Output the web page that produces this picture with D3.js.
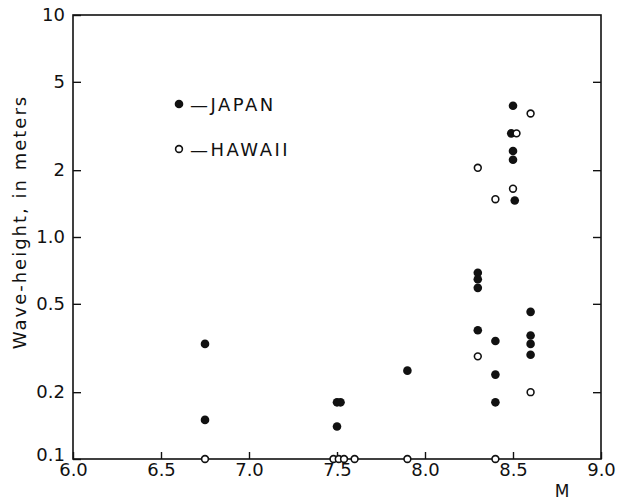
<!DOCTYPE html>
<html>
<head>
<meta charset="utf-8">
<script src="https://cdn.jsdelivr.net/npm/d3@7"></script>
<style>
  body { margin: 0; background: #fff; }
  #container { width: 621px; height: 500px; }
  text { font-family: "DejaVu Sans", sans-serif; fill: #111; }
</style>
</head>
<body>
<div id="container"></div>
<script>
// magnitude M and wave height (m)
const japanM = [6.75, 6.75, 7.5, 7.52, 7.5, 7.9, 8.3, 8.3, 8.3, 8.3, 8.4, 8.4, 8.4, 8.5, 8.49, 8.5, 8.5, 8.51, 8.6, 8.6, 8.6, 8.6]
const japanH = [0.33, 0.15, 0.18, 0.18, 0.14, 0.25, 0.69, 0.645, 0.59, 0.38, 0.34, 0.24, 0.18, 3.9, 2.93, 2.44, 2.23, 1.46, 0.46, 0.36, 0.33, 0.295]

const hawaiiM = [6.75, 7.48, 7.51, 7.54, 7.6, 7.9, 8.4, 8.3, 8.3, 8.4, 8.5, 8.52, 8.6, 8.6]
const hawaiiH = [0.1, 0.1, 0.1, 0.1, 0.1, 0.1, 0.1, 2.05, 0.29, 1.48, 1.65, 2.93, 3.6, 0.2]

const xTicks = [6.0, 6.5, 7.0, 7.5, 8.0, 8.5, 9.0]
const yTicks = [0.1, 0.2, 0.5, 1, 2, 5, 10]
const yTickLabels = ["0.1", "0.2", "0.5", "1.0", "2", "5", "10"]

const width = 621
const height = 500
const marginTop = 15
const marginRight = 20
const marginBottom = 41
const marginLeft = 73

const x = d3.scaleLinear()
    .domain([6, 9])
    .range([marginLeft, width - marginRight])

const y = d3.scaleLog()
    .domain([0.1, 10])
    .range([height - marginBottom, marginTop])

const svg = d3.select("#container").append("svg")
    .attr("width", width)
    .attr("height", height)

// frame
svg.append("rect")
    .attr("x", x(6))
    .attr("y", y(10))
    .attr("width", x(9) - x(6))
    .attr("height", y(0.1) - y(10))
    .attr("fill", "none")
    .attr("stroke", "#111")
    .attr("stroke-width", 1.6)

const yAxis = svg.append("g")
    .attr("transform", `translate(${marginLeft},0)`)
    .call(d3.axisLeft(y)
        .tickValues(yTicks)
        .tickSize(-8)
        .tickPadding(8)
        .tickFormat((d, i) => yTickLabels[i]))
yAxis.select(".domain").remove()
// bottom label sits a little above its tick so it clears "6.0"
yAxis.selectAll(".tick text").filter(d => d === 0.1).attr("dy", "0.1em")

const yAxisRight = svg.append("g")
    .attr("transform", `translate(${width - marginRight},0)`)
    .call(d3.axisLeft(y)
        .tickValues(yTicks.slice(1, -1))
        .tickSize(8)
        .tickFormat(""))
yAxisRight.select(".domain").remove()

const xAxis = svg.append("g")
    .attr("transform", `translate(0,${height - marginBottom})`)
    .call(d3.axisBottom(x)
        .tickValues(xTicks)
        .tickSize(-7)
        .tickPadding(4)
        .tickFormat(d3.format(".1f")))
xAxis.select(".domain").remove()

svg.selectAll(".tick line").attr("stroke", "#111").attr("stroke-width", 1.4)
svg.selectAll(".tick text")
    .style("font-family", "DejaVu Sans, sans-serif")
    .style("font-size", "18px")
    .attr("fill", "#111")

// axis titles
svg.append("text")
    .attr("transform", "rotate(-90)")
    .attr("x", -222)
    .attr("y", 26)
    .attr("text-anchor", "middle")
    .style("font-size", "18px")
    .style("letter-spacing", "2px")
    .text("Wave-height,  in meters")

svg.append("text")
    .attr("x", 562)
    .attr("y", 497)
    .attr("text-anchor", "middle")
    .style("font-size", "17px")
    .text("M")

// points
svg.selectAll(".japan")
    .data(japanM)
    .enter().append("circle")
    .attr("class", "japan")
    .attr("cx", d => x(d))
    .attr("cy", (d, i) => y(japanH[i]))
    .attr("r", 4.3)
    .attr("fill", "#111")

svg.selectAll(".hawaii")
    .data(hawaiiM)
    .enter().append("circle")
    .attr("class", "hawaii")
    .attr("cx", d => x(d))
    .attr("cy", (d, i) => y(hawaiiH[i]))
    .attr("r", 3.4)
    .attr("fill", "#fff")
    .attr("stroke", "#111")
    .attr("stroke-width", 1.6)

// legend
const legend = svg.append("g")
legend.append("circle")
    .attr("cx", 179).attr("cy", 104).attr("r", 4.3).attr("fill", "#111")
legend.append("circle")
    .attr("cx", 179).attr("cy", 149).attr("r", 3.4)
    .attr("fill", "#fff").attr("stroke", "#111").attr("stroke-width", 1.6)
legend.append("text")
    .attr("x", 190).attr("y", 111)
    .style("font-size", "18px")
    .style("letter-spacing", "2.5px")
    .text("—JAPAN")
legend.append("text")
    .attr("x", 190).attr("y", 156)
    .style("font-size", "18px")
    .style("letter-spacing", "2.5px")
    .text("—HAWAII")
</script>
</body>
</html>
